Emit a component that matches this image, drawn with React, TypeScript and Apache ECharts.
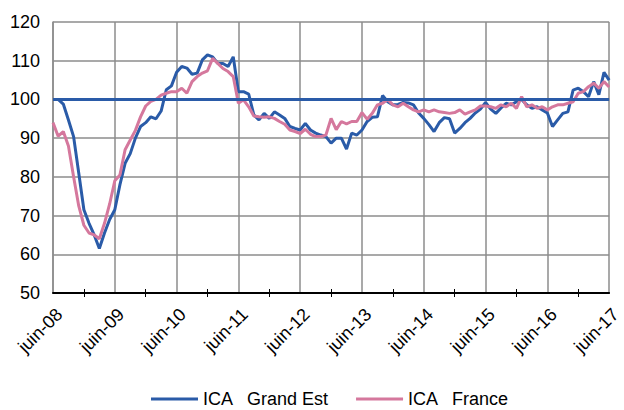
import React, { useEffect, useRef } from "react";
import * as echarts from "echarts";

const monthNames = ["juin", "juil", "août", "sept", "oct", "nov", "déc", "janv", "févr", "mars", "avr", "mai"];
const startYear = 8;
const monthCount = 109;
const categories: string[] = [];
for (let i = 0; i < monthCount; i++) {
  const m = i % 12;
  const y = startYear + Math.floor((i + 6) / 12);
  categories.push(monthNames[m] + "-" + String(y).padStart(2, "0"));
}

const grandEst = [
  100, 100, 98.8, 94.7, 90.4, 81, 71.5, 68, 65, 61.5,
  65.5, 69, 71.5, 78, 83.5, 86, 90, 93, 94, 95.5,
  95, 97, 102.5, 103.5, 107, 108.5, 108.1, 106.5, 106.8, 110.2,
  111.5, 111, 109.3, 109.3, 108.5, 111, 102, 102, 101.4, 96,
  94.7, 96.4, 95.1, 96.8, 96, 95.1, 93, 92.5, 92.1, 93.8,
  92.1, 91.3, 90.8, 90.4, 88.7, 90, 90, 87.2, 91.3, 90.8,
  92.1, 94.3, 95.4, 95.5, 101, 99.4, 98.6, 98.7, 99.2, 99.1,
  98.6, 96.5, 95.1, 93.5, 91.7, 94, 95.3, 95, 91.3, 92.5,
  94, 95.1, 96.5, 97.5, 99.2, 97.5, 96.4, 97.8, 99, 98.6,
  99.4, 100, 98.6, 97.7, 98.1, 97.3, 96.5, 93, 94.7, 96.4,
  96.8, 102.4, 102.9, 102, 100.7, 104.6, 101.2, 107, 105,
];

const france = [
  94, 90.5, 91.7, 88, 80, 72.5, 67.5, 65.5, 65, 64,
  68, 73, 79, 80.5, 87, 89.5, 92, 95.5, 98.3, 99.5,
  100, 101.1, 101.6, 102, 102, 102.9, 101.6, 104.6, 105.9, 106.8,
  107.4, 110.6, 109.3, 108, 107.2, 105.9, 99, 99.9, 98.1, 95.7,
  95.5, 95.4, 95.5, 95.1, 94.3, 93.6, 92.1, 91.7, 91.2, 92.3,
  91, 90.4, 90.4, 90.8, 95.1, 92.2, 94.3, 93.7, 94.3, 94.3,
  96.6, 94.9, 96.4, 98.6, 99, 100, 98.6, 98.1, 99, 98.1,
  97.3, 96.8, 97.3, 96.8, 97.3, 96.8, 96.6, 96.4, 96.6, 97.3,
  96.2, 96.8, 97.3, 98.3, 98.3, 98.1, 97.7, 98.6, 98.1, 99,
  97.7, 100.7, 98.1, 98.6, 97.7, 98.1, 97.3, 98.1, 98.6, 98.6,
  99, 99.4, 101.6, 102, 103.3, 104.2, 102.9, 104.6, 103.2,
];

const referenceLevel = 100;
const seriesNames = ["ICA   Grand Est", "ICA   France"];

const BLUE = "#2A5BA8";
const PINK = "#D5789D";
const GRID = "#8C8C8C";
const FONT = "Liberation Sans, Arial, sans-serif";

export default function App() {
  const ref = useRef<HTMLDivElement>(null);
  useEffect(() => {
    document.body.style.margin = "0";
    if (!ref.current) return;
    const chart = echarts.init(ref.current, undefined, { renderer: "svg" });
    const tickInterval = (i: number) => i % 12 === 6;
    chart.setOption({
      animation: false,
      backgroundColor: "#fff",
      textStyle: { fontFamily: FONT },
      grid: { left: 53, right: 4, top: 22, bottom: 117, containLabel: false },
      legend: {
        top: 386,
        left: 146,
        padding: [4, 5, 2, 5],
        itemWidth: 47,
        itemHeight: 3,
        itemGap: 27,
        icon: "rect",
        textStyle: { fontSize: 18, color: "#000", fontFamily: FONT },
        data: seriesNames,
      },
      xAxis: [
        {
          type: "category",
          data: categories,
          boundaryGap: false,
          axisLine: { show: true, lineStyle: { color: "#000", width: 2 } },
          axisTick: { show: true, interval: tickInterval, length: 4, lineStyle: { color: "#000", width: 1 } },
          axisLabel: {
            interval: 11,
            rotate: 45,
            margin: 12,
            verticalAlign: "top",
            fontSize: 18,
            color: "#000",
            fontFamily: FONT,
          },
          splitLine: { show: true, interval: 11, lineStyle: { color: GRID, width: 1.5 } },
        },
        {
          type: "category",
          data: categories,
          boundaryGap: false,
          position: "bottom",
          axisLine: { show: false },
          axisTick: { show: true, inside: true, interval: tickInterval, length: 4, lineStyle: { color: "#000", width: 1 } },
          axisLabel: { show: false },
          splitLine: { show: false },
        },
      ],
      yAxis: {
        type: "value",
        min: 50,
        max: 120,
        interval: 10,
        axisLine: { show: true, lineStyle: { color: GRID, width: 1.5 } },
        axisTick: { show: false },
        axisLabel: { fontSize: 18, color: "#000", margin: 13, fontFamily: FONT },
        splitLine: { show: true, lineStyle: { color: GRID, width: 1.5 } },
      },
      series: [
        {
          name: seriesNames[0],
          type: "line",
          data: grandEst,
          showSymbol: false,
          symbol: "none",
          lineStyle: { color: BLUE, width: 3 },
          itemStyle: { color: BLUE },
        },
        {
          name: seriesNames[1],
          type: "line",
          data: france,
          showSymbol: false,
          symbol: "none",
          lineStyle: { color: PINK, width: 3 },
          itemStyle: { color: PINK },
          markLine: {
            silent: true,
            symbol: ["none", "none"],
            label: { show: false },
            lineStyle: { color: BLUE, width: 3, type: "solid" },
            data: [{ yAxis: referenceLevel }],
          },
        },
      ],
    });
    return () => chart.dispose();
  }, []);
  return <div ref={ref} style={{ width: 624, height: 410 }} />;
}
